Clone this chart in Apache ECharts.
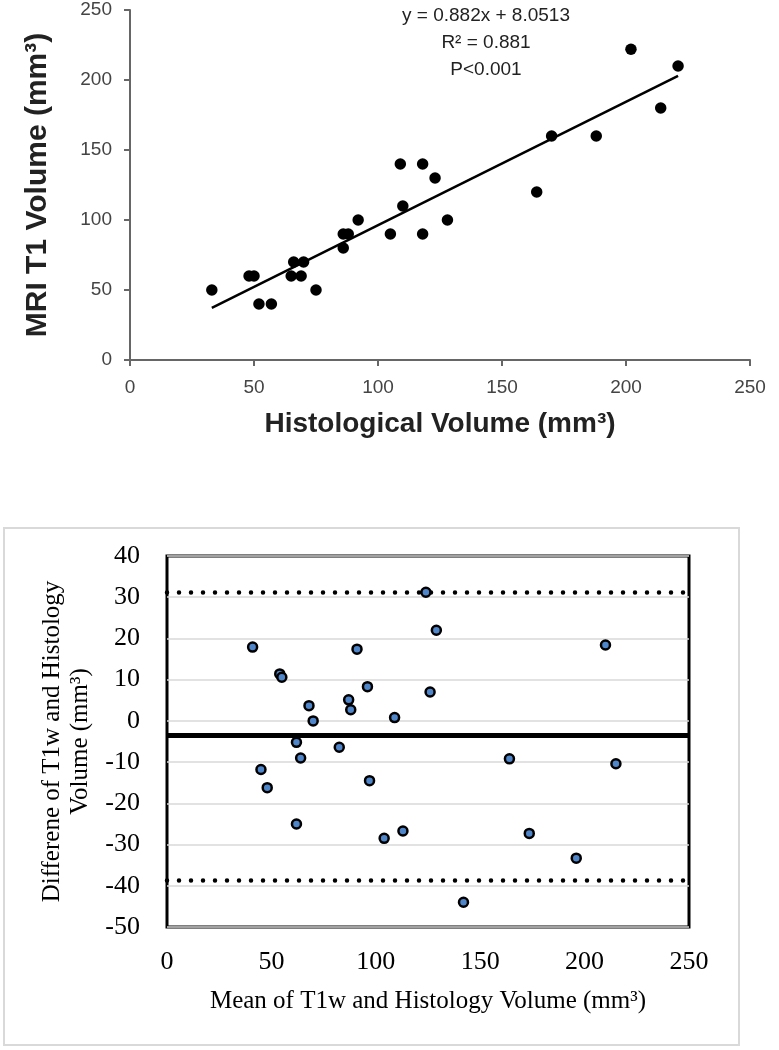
<!DOCTYPE html>
<html>
<head>
<meta charset="utf-8">
<script src="https://cdn.jsdelivr.net/npm/echarts@6/dist/echarts.min.js"></script>
<style>
html,body{margin:0;padding:0;background:#fff;}
#chart{width:779px;height:1050px;}
</style>
</head>
<body>
<div id="chart"></div>
<script>
// ---- Top panel: regression of MRI T1 volume on histological volume ----
const histVolume = [33, 48, 50, 52, 57, 65, 66, 70, 69, 75, 86, 88, 86, 92, 105, 109, 110, 118, 118, 123, 128, 164, 170, 188, 202, 214, 221];
const mriVolume  = [50, 60, 60, 40, 40, 60, 70, 70, 60, 50, 90, 90, 80, 100, 90, 140, 110, 140, 90, 130, 100, 120, 160, 160, 222, 180, 210];
const trendSlope = 0.882;
const trendIntercept = 8.0513;
const trendRange = [33, 221];
const annotationLines = ['y = 0.882x + 8.0513', 'R\u00B2 = 0.881', 'P<0.001'];
const topTicks = [0, 50, 100, 150, 200, 250];

// ---- Bottom panel: Bland-Altman ----
const baMean = [41, 54, 55, 68, 70, 87, 88, 91, 96, 109, 124, 129, 126, 210, 62, 82.5, 64, 45, 48, 97, 62, 104, 113, 164, 215, 173.5, 196, 142];
const baDiff = [17.9, 11.4, 10.6, 3.7, 0, 5.1, 2.7, 17.4, 8.3, 0.8, 31.2, 22, 7, 18.4, -5.2, -6.4, -9, -11.8, -16.2, -14.5, -25, -28.5, -26.7, -9.2, -10.4, -27.3, -33.3, -44];
const meanDifference = -3.6;
const upperLimit = 31.1;
const lowerLimit = -38.6;
const baXTicks = [0, 50, 100, 150, 200, 250];
const baYTicks = [-50, -40, -30, -20, -10, 0, 10, 20, 30, 40];

const sans = '"Liberation Sans", Arial, sans-serif';
const serif = '"Liberation Serif", "DejaVu Serif", serif';

const topPoints = histVolume.map((x, i) => [x, mriVolume[i]]);
const trendPoints = trendRange.map(x => [x, trendSlope * x + trendIntercept]);
const baPoints = baMean.map((x, i) => [x, baDiff[i]]);

const chart = echarts.init(document.getElementById('chart'), null, {renderer: 'canvas'});

const option = {
  animation: false,
  backgroundColor: '#fff',
  graphic: [
    {
      type: 'rect', z: -10,
      shape: {x: 4, y: 528, width: 735, height: 517},
      style: {fill: 'none', stroke: '#d9d9d9', lineWidth: 2}
    },
    {
      type: 'text', z: 10,
      x: 486, y: 2,
      style: {
        text: annotationLines.join('\n'),
        align: 'center', verticalAlign: 'top',
        font: '19px ' + sans,
        fill: '#222', lineHeight: 27
      }
    }
  ],
  grid: [
    {left: 130, top: 10, width: 620, height: 350},
    {left: 167, top: 556, width: 522, height: 371, show: true, borderColor: '#000', borderWidth: 3, backgroundColor: 'transparent'}
  ],
  xAxis: [
    {
      gridIndex: 0, type: 'value', min: 0, max: 250, interval: 50,
      name: 'Histological Volume (mm\u00B3)', nameLocation: 'middle', nameGap: 50,
      nameTextStyle: {fontFamily: sans, fontWeight: 'bold', fontSize: 28, color: '#222'},
      axisLine: {show: true, lineStyle: {color: '#666', width: 2}},
      axisTick: {show: true, length: 6, lineStyle: {color: '#666', width: 2}},
      axisLabel: {fontFamily: sans, fontSize: 19, color: '#444', margin: 18},
      splitLine: {show: false}
    },
    {
      gridIndex: 1, type: 'value', min: 0, max: 250, interval: 50,
      name: 'Mean of T1w and Histology Volume (mm\u00B3)', nameLocation: 'middle', nameGap: 62,
      nameTextStyle: {fontFamily: serif, fontSize: 25, color: '#000'},
      axisLine: {show: false},
      axisTick: {show: false},
      axisLabel: {fontFamily: serif, fontSize: 26, color: '#000', margin: 22},
      splitLine: {show: false}
    }
  ],
  yAxis: [
    {
      gridIndex: 0, type: 'value', min: 0, max: 250, interval: 50,
      name: 'MRI T1 Volume (mm\u00B3)', nameLocation: 'middle', nameGap: 77, nameRotate: 90,
      nameTextStyle: {fontFamily: sans, fontWeight: 'bold', fontSize: 30, color: '#222'},
      axisLine: {show: true, lineStyle: {color: '#666', width: 2}},
      axisTick: {show: true, length: 6, lineStyle: {color: '#666', width: 2}},
      axisLabel: {fontFamily: sans, fontSize: 19, color: '#444', margin: 18},
      splitLine: {show: false}
    },
    {
      gridIndex: 1, type: 'value', min: -50, max: 40, interval: 10,
      name: 'Differene of T1w and Histology\nVolume (mm\u00B3)', nameLocation: 'middle', nameGap: 72, nameRotate: 90,
      nameTextStyle: {fontFamily: serif, fontSize: 25, color: '#000', lineHeight: 28, align: 'center'},
      axisLine: {show: false},
      axisTick: {show: false},
      axisLabel: {fontFamily: serif, fontSize: 26, color: '#000', margin: 27},
      splitLine: {show: true, lineStyle: {color: '#d9d9d9', width: 1.5}}
    }
  ],
  series: [
    {
      type: 'line', xAxisIndex: 0, yAxisIndex: 0,
      data: trendPoints, symbol: 'none',
      lineStyle: {color: '#000', width: 2.5}, z: 2
    },
    {
      type: 'scatter', xAxisIndex: 0, yAxisIndex: 0,
      data: topPoints, symbol: 'circle', symbolSize: 11.5,
      itemStyle: {color: '#000', opacity: 1}, z: 3
    },
    {
      type: 'scatter', xAxisIndex: 1, yAxisIndex: 1, data: [], z: 2,
      markLine: {
        silent: true, symbol: 'none', label: {show: false},
        data: [
          {yAxis: meanDifference, lineStyle: {type: 'solid', width: 5, color: '#000'}},
          {yAxis: upperLimit, lineStyle: {type: [0, 12], width: 4.5, cap: 'round', color: '#000'}},
          {yAxis: lowerLimit, lineStyle: {type: [0, 12], width: 4.5, cap: 'round', color: '#000'}}
        ]
      }
    },
    {
      type: 'scatter', xAxisIndex: 1, yAxisIndex: 1,
      data: baPoints, symbol: 'circle', symbolSize: 9,
      itemStyle: {color: '#4f85c9', borderColor: '#000', borderWidth: 2.5, opacity: 1}, z: 5
    }
  ]
};
chart.setOption(option);
</script>
</body>
</html>
